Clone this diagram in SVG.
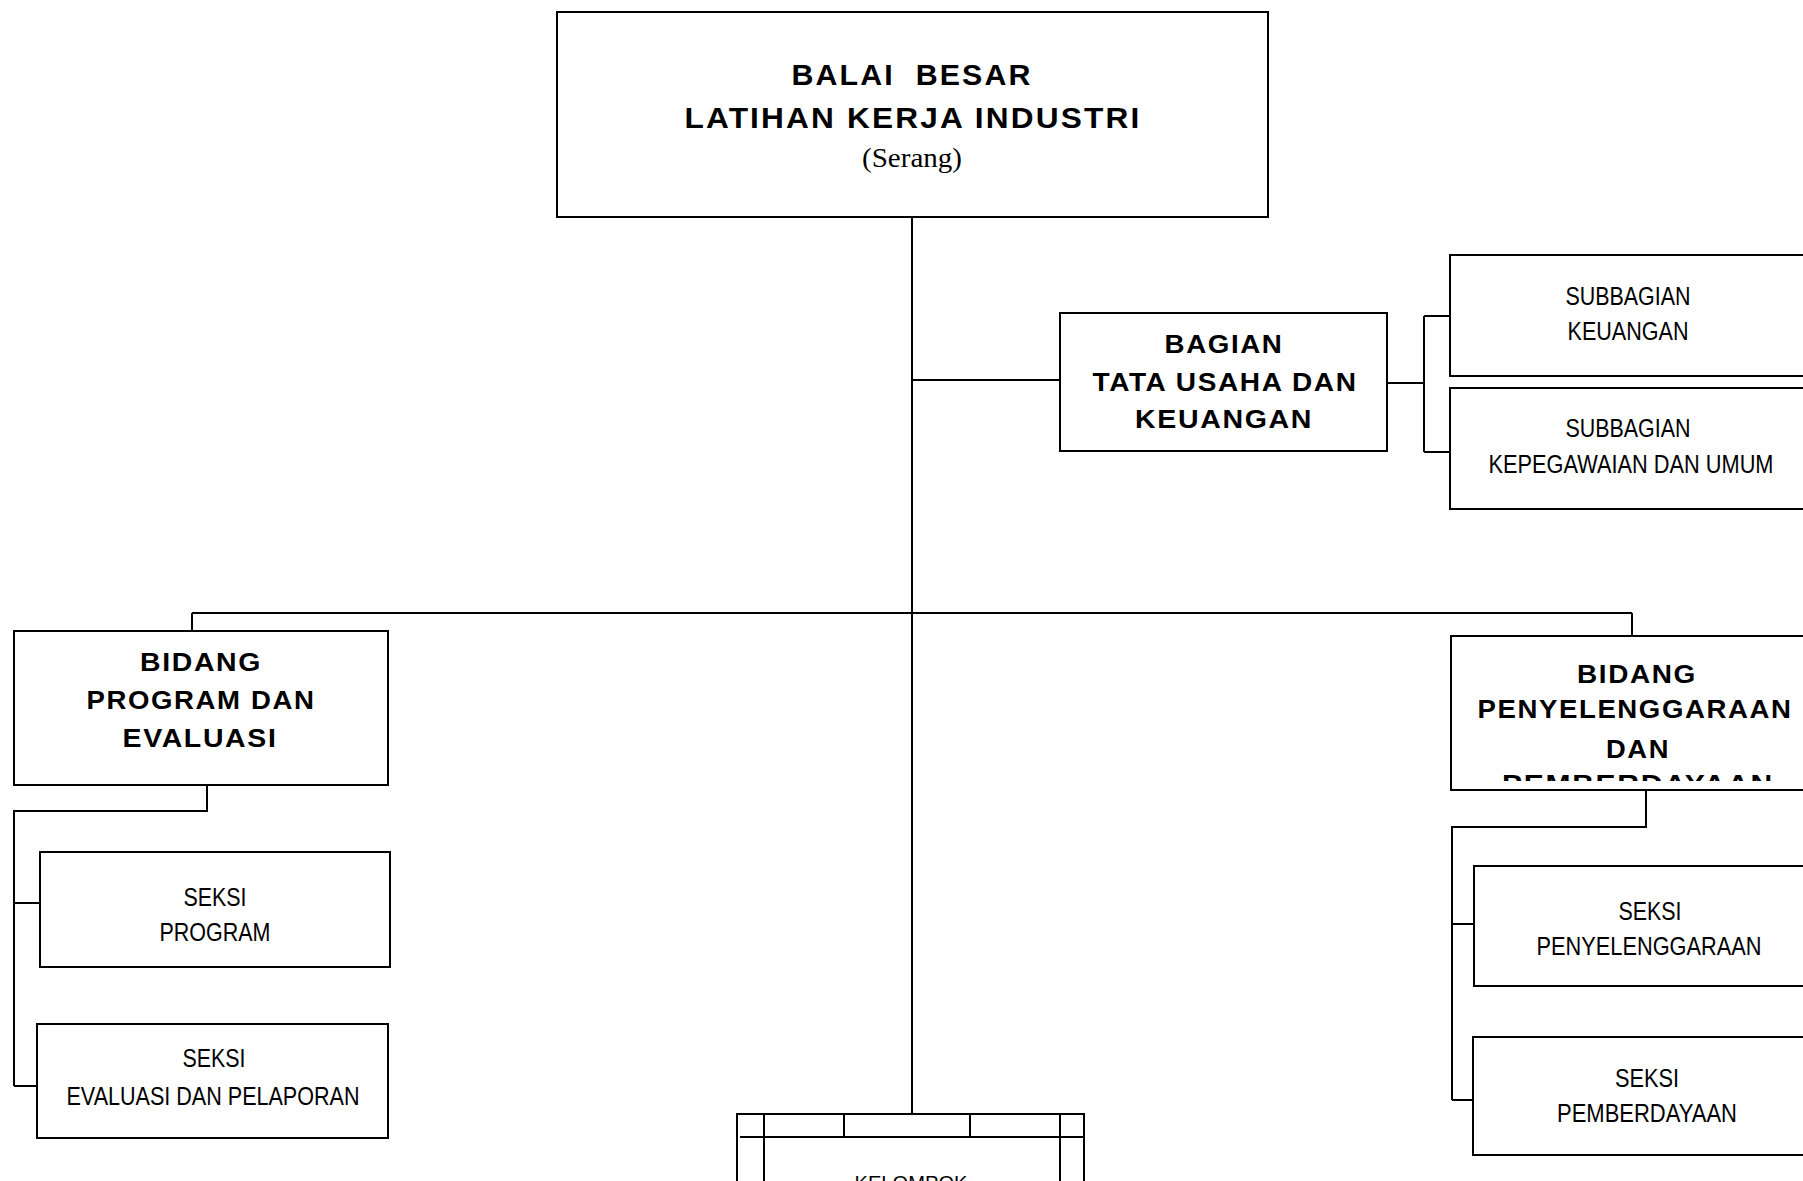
<svg xmlns="http://www.w3.org/2000/svg" width="1803" height="1181" viewBox="0 0 1803 1181">
<style>
.box{fill:#fff;stroke:#000;stroke-width:2}
.ln{fill:none;stroke:#000;stroke-width:2}
.tb{font-family:"Liberation Sans",Arial,sans-serif;font-weight:bold;fill:#000;text-anchor:middle;font-size:26px;letter-spacing:1.5px}
.tt{font-family:"Liberation Sans",Arial,sans-serif;font-weight:bold;fill:#000;text-anchor:middle;font-size:29px;letter-spacing:2px}
.tn{font-family:"Liberation Sans Narrow","Arial Narrow","Liberation Sans",sans-serif;font-size:26px;fill:#000;text-anchor:middle}
.ts{font-family:"Liberation Serif","Times New Roman",serif;font-size:28px;fill:#000;text-anchor:middle}
.tr{font-family:"Liberation Sans",Arial,sans-serif;font-size:20px;fill:#000;text-anchor:middle}
</style>
<defs>
<clipPath id="clipPeny"><rect x="1451" y="636" width="360" height="145"/></clipPath>
</defs>
<rect x="0" y="0" width="1803" height="1181" fill="#fff"/>
<g id="connectors">
<path class="ln" d="M912 217V1114"/>
<path class="ln" d="M912 380H1060"/>
<path class="ln" d="M1387 383H1424M1424 316V452M1424 316H1451M1424 452H1451"/>
<path class="ln" d="M192 613H1632M192 613V631M1632 613V636"/>
<path class="ln" d="M207 785V811H14V1086M14 903H40M14 1086H37"/>
<path class="ln" d="M1646 790V827H1452V1100M1452 924H1474M1452 1100H1473"/>
</g>
<g id="node-balai">
<rect class="box" x="557" y="12" width="711" height="205"/>
<text class="tt" x="912" y="85" textLength="241" lengthAdjust="spacingAndGlyphs">BALAI&#160;&#160;BESAR</text>
<text class="tt" x="913" y="128" textLength="457" lengthAdjust="spacingAndGlyphs">LATIHAN KERJA INDUSTRI</text>
<text class="ts" x="912" y="167" textLength="100" lengthAdjust="spacingAndGlyphs">(Serang)</text>
</g>
<g id="node-bagian">
<rect class="box" x="1060" y="313" width="327" height="138"/>
<text class="tb" x="1224" y="353" textLength="119" lengthAdjust="spacingAndGlyphs">BAGIAN</text>
<text class="tb" x="1225" y="391" textLength="265" lengthAdjust="spacingAndGlyphs">TATA USAHA DAN</text>
<text class="tb" x="1224" y="428" textLength="178" lengthAdjust="spacingAndGlyphs">KEUANGAN</text>
</g>
<g id="node-subbagian-keuangan">
<rect class="box" x="1450" y="255" width="370" height="121"/>
<text class="tn" x="1628" y="305" textLength="125" lengthAdjust="spacingAndGlyphs">SUBBAGIAN</text>
<text class="tn" x="1628" y="340" textLength="121" lengthAdjust="spacingAndGlyphs">KEUANGAN</text>
</g>
<g id="node-subbagian-kepegawaian">
<rect class="box" x="1450" y="388" width="370" height="121"/>
<text class="tn" x="1628" y="437" textLength="125" lengthAdjust="spacingAndGlyphs">SUBBAGIAN</text>
<text class="tn" x="1631" y="473" textLength="285" lengthAdjust="spacingAndGlyphs">KEPEGAWAIAN DAN UMUM</text>
</g>
<g id="node-bidang-program">
<rect class="box" x="14" y="631" width="374" height="154"/>
<text class="tb" x="201" y="671" textLength="122" lengthAdjust="spacingAndGlyphs">BIDANG</text>
<text class="tb" x="201" y="709" textLength="229" lengthAdjust="spacingAndGlyphs">PROGRAM DAN</text>
<text class="tb" x="200" y="747" textLength="155" lengthAdjust="spacingAndGlyphs">EVALUASI</text>
</g>
<g id="node-seksi-program">
<rect class="box" x="40" y="852" width="350" height="115"/>
<text class="tn" x="215" y="906" textLength="63" lengthAdjust="spacingAndGlyphs">SEKSI</text>
<text class="tn" x="215" y="941" textLength="111" lengthAdjust="spacingAndGlyphs">PROGRAM</text>
</g>
<g id="node-seksi-evaluasi">
<rect class="box" x="37" y="1024" width="351" height="114"/>
<text class="tn" x="214" y="1067" textLength="63" lengthAdjust="spacingAndGlyphs">SEKSI</text>
<text class="tn" x="213" y="1105" textLength="293" lengthAdjust="spacingAndGlyphs">EVALUASI DAN PELAPORAN</text>
</g>
<g id="node-bidang-penyelenggaraan">
<rect class="box" x="1451" y="636" width="370" height="154"/>
<g clip-path="url(#clipPeny)">
<text class="tb" x="1637" y="683" textLength="120" lengthAdjust="spacingAndGlyphs">BIDANG</text>
<text class="tb" x="1635" y="718" textLength="315" lengthAdjust="spacingAndGlyphs">PENYELENGGARAAN</text>
<text class="tb" x="1638" y="758" textLength="64" lengthAdjust="spacingAndGlyphs">DAN</text>
<text class="tb" x="1638" y="793" textLength="272" lengthAdjust="spacingAndGlyphs">PEMBERDAYAAN</text>
</g>
</g>
<g id="node-seksi-penyelenggaraan">
<rect class="box" x="1474" y="866" width="350" height="120"/>
<text class="tn" x="1650" y="920" textLength="63" lengthAdjust="spacingAndGlyphs">SEKSI</text>
<text class="tn" x="1649" y="955" textLength="225" lengthAdjust="spacingAndGlyphs">PENYELENGGARAAN</text>
</g>
<g id="node-seksi-pemberdayaan">
<rect class="box" x="1473" y="1037" width="350" height="118"/>
<text class="tn" x="1647" y="1087" textLength="64" lengthAdjust="spacingAndGlyphs">SEKSI</text>
<text class="tn" x="1647" y="1122" textLength="180" lengthAdjust="spacingAndGlyphs">PEMBERDAYAAN</text>
</g>
<g id="node-kelompok">
<path class="ln" d="M737 1200V1114H1084V1200M740 1137H1084M764 1114V1200M844 1114V1137M970 1114V1137M1060 1114V1200"/>
<text class="tr" x="911" y="1190" textLength="113" lengthAdjust="spacingAndGlyphs">KELOMPOK</text>
</g>
</svg>
